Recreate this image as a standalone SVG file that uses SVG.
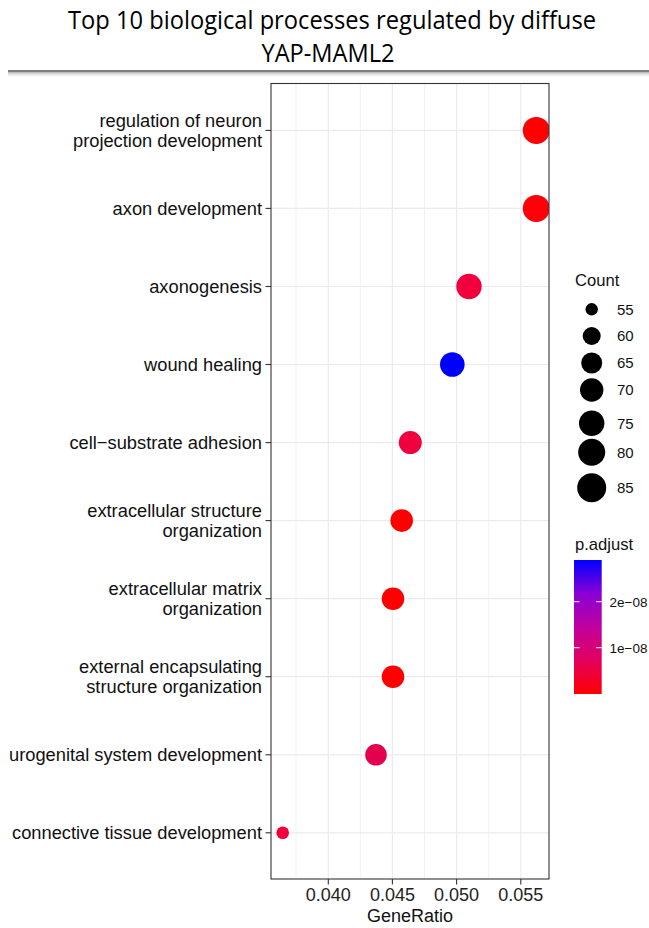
<svg xmlns="http://www.w3.org/2000/svg" width="649" height="928" viewBox="0 0 649 928">
<defs>
<style>
.t{font-family:"Liberation Sans",Arial,sans-serif;fill:#111}
.yl{font-size:18.3px;text-anchor:end}
.xl{font-size:18px;text-anchor:middle;fill:#222}
.lg{font-size:15px}
.lp{font-size:13.5px}
.lt{font-size:16.6px}
.maj{stroke:#ebebeb;stroke-width:1.2}
.min{stroke:#ebebeb;stroke-width:0.7}
.tk{stroke:#333;stroke-width:1.1}
.wt{stroke:#fff;stroke-width:1}
</style>
<linearGradient id="pg" x1="0" y1="0" x2="0" y2="1">
<stop offset="0" stop-color="#0000FF"/>
<stop offset="0.25" stop-color="#8A00D6"/>
<stop offset="0.5" stop-color="#C0009E"/>
<stop offset="0.75" stop-color="#E3005E"/>
<stop offset="1" stop-color="#FF0000"/>
</linearGradient>
<linearGradient id="sh" x1="0" y1="0" x2="0" y2="1">
<stop offset="0" stop-color="#b0b0b0"/>
<stop offset="1" stop-color="#ffffff" stop-opacity="0"/>
</linearGradient>
<clipPath id="pc"><rect x="271" y="83.5" width="278" height="795.5"/></clipPath>
</defs>
<rect width="649" height="928" fill="#fff"/>
<g id="title">
<text x="332" y="28.5" font-family="'Open Sans','Noto Sans',sans-serif" font-size="25.5" text-anchor="middle" fill="#000" textLength="528" lengthAdjust="spacingAndGlyphs">Top 10 biological processes regulated by diffuse</text>
<text x="328" y="61.5" font-family="'Open Sans','Noto Sans',sans-serif" font-size="25.5" text-anchor="middle" fill="#000" textLength="133" lengthAdjust="spacingAndGlyphs">YAP-MAML2</text>
<rect x="8" y="72" width="641" height="6" fill="url(#sh)"/>
<line x1="8" y1="71" x2="649" y2="71" stroke="#7f7f7f" stroke-width="2"/>
</g>
<g id="panel">
<rect x="271" y="83.5" width="278" height="795.5" fill="#fff"/>
<g class="grid">
<line class="min" x1="296" y1="83.5" x2="296" y2="879"/>
<line class="min" x1="360.3" y1="83.5" x2="360.3" y2="879"/>
<line class="min" x1="424.5" y1="83.5" x2="424.5" y2="879"/>
<line class="min" x1="488.7" y1="83.5" x2="488.7" y2="879"/>
<line class="maj" x1="328.3" y1="83.5" x2="328.3" y2="879"/>
<line class="maj" x1="392.4" y1="83.5" x2="392.4" y2="879"/>
<line class="maj" x1="456.6" y1="83.5" x2="456.6" y2="879"/>
<line class="maj" x1="520.8" y1="83.5" x2="520.8" y2="879"/>
<line class="maj" x1="271" y1="130.4" x2="549" y2="130.4"/>
<line class="maj" x1="271" y1="208.4" x2="549" y2="208.4"/>
<line class="maj" x1="271" y1="286.5" x2="549" y2="286.5"/>
<line class="maj" x1="271" y1="364.5" x2="549" y2="364.5"/>
<line class="maj" x1="271" y1="442.6" x2="549" y2="442.6"/>
<line class="maj" x1="271" y1="520.6" x2="549" y2="520.6"/>
<line class="maj" x1="271" y1="598.7" x2="549" y2="598.7"/>
<line class="maj" x1="271" y1="676.7" x2="549" y2="676.7"/>
<line class="maj" x1="271" y1="754.8" x2="549" y2="754.8"/>
<line class="maj" x1="271" y1="832.8" x2="549" y2="832.8"/>
</g>
</g>
<g id="points" clip-path="url(#pc)">
<circle id="p1" cx="536.3" cy="130.4" r="13.5" fill="#FF0000"/>
<circle id="p2" cx="536.3" cy="208.4" r="13.5" fill="#FF0008"/>
<circle id="p3" cx="469" cy="286.5" r="12.7" fill="#F2003E"/>
<circle id="p4" cx="452.3" cy="364.5" r="12.3" fill="#0000FF"/>
<circle id="p5" cx="410.3" cy="442.6" r="11.5" fill="#F0003E"/>
<circle id="p6" cx="401.7" cy="520.6" r="11.3" fill="#FF0000"/>
<circle id="p7" cx="393" cy="598.7" r="11.3" fill="#FF0000"/>
<circle id="p8" cx="393" cy="676.7" r="11.3" fill="#FF0000"/>
<circle id="p9" cx="376" cy="754.8" r="10.8" fill="#E5004F"/>
<circle id="p10" cx="282.7" cy="832.8" r="6.3" fill="#F3003C"/>
</g>
<g id="frame">
<rect x="271" y="83.5" width="278" height="795.5" fill="none" stroke="#333" stroke-width="1.1"/>
</g>
<g id="yaxis">
<line class="tk" x1="265.5" y1="130.4" x2="271" y2="130.4"/>
<line class="tk" x1="265.5" y1="208.4" x2="271" y2="208.4"/>
<line class="tk" x1="265.5" y1="286.5" x2="271" y2="286.5"/>
<line class="tk" x1="265.5" y1="364.5" x2="271" y2="364.5"/>
<line class="tk" x1="265.5" y1="442.6" x2="271" y2="442.6"/>
<line class="tk" x1="265.5" y1="520.6" x2="271" y2="520.6"/>
<line class="tk" x1="265.5" y1="598.7" x2="271" y2="598.7"/>
<line class="tk" x1="265.5" y1="676.7" x2="271" y2="676.7"/>
<line class="tk" x1="265.5" y1="754.8" x2="271" y2="754.8"/>
<line class="tk" x1="265.5" y1="832.8" x2="271" y2="832.8"/>
<text class="t yl" x="262" y="127">regulation of neuron</text>
<text class="t yl" x="262" y="147">projection development</text>
<text class="t yl" x="262" y="215">axon development</text>
<text class="t yl" x="262" y="293">axonogenesis</text>
<text class="t yl" x="262" y="371">wound healing</text>
<text class="t yl" x="262" y="449">cell−substrate adhesion</text>
<text class="t yl" x="262" y="517.2">extracellular structure</text>
<text class="t yl" x="262" y="537.2">organization</text>
<text class="t yl" x="262" y="595.2">extracellular matrix</text>
<text class="t yl" x="262" y="615.2">organization</text>
<text class="t yl" x="262" y="673.2">external encapsulating</text>
<text class="t yl" x="262" y="693.2">structure organization</text>
<text class="t yl" x="262" y="761.3">urogenital system development</text>
<text class="t yl" x="262" y="839.3">connective tissue development</text>
</g>
<g id="xaxis">
<line class="tk" x1="328.3" y1="879" x2="328.3" y2="884.5"/>
<line class="tk" x1="392.4" y1="879" x2="392.4" y2="884.5"/>
<line class="tk" x1="456.6" y1="879" x2="456.6" y2="884.5"/>
<line class="tk" x1="520.8" y1="879" x2="520.8" y2="884.5"/>
<text class="t xl" x="328.3" y="900.5">0.040</text>
<text class="t xl" x="392.4" y="900.5">0.045</text>
<text class="t xl" x="456.6" y="900.5">0.050</text>
<text class="t xl" x="520.8" y="900.5">0.055</text>
<text class="t" x="410" y="921.5" font-size="18" text-anchor="middle">GeneRatio</text>
</g>
<g id="legend-count">
<text class="t lt" x="575" y="286">Count</text>
<circle cx="591.7" cy="309.3" r="6.2" fill="#000"/>
<circle cx="591.7" cy="336" r="9" fill="#000"/>
<circle cx="591.7" cy="363" r="10.5" fill="#000"/>
<circle cx="591.7" cy="390" r="11.7" fill="#000"/>
<circle cx="591.7" cy="423.3" r="12.7" fill="#000"/>
<circle cx="591.7" cy="452.3" r="13.5" fill="#000"/>
<circle cx="591.7" cy="487.7" r="14.5" fill="#000"/>
<text class="t lg" x="617" y="314.6">55</text>
<text class="t lg" x="617" y="341.3">60</text>
<text class="t lg" x="617" y="368.3">65</text>
<text class="t lg" x="617" y="395.3">70</text>
<text class="t lg" x="617" y="428.6">75</text>
<text class="t lg" x="617" y="457.6">80</text>
<text class="t lg" x="617" y="493">85</text>
</g>
<g id="legend-padjust">
<text class="t lt" x="575" y="550">p.adjust</text>
<rect x="574" y="560" width="27.7" height="134" fill="url(#pg)"/>
<line class="wt" x1="574" y1="601.7" x2="579.5" y2="601.7"/>
<line class="wt" x1="596.2" y1="601.7" x2="601.7" y2="601.7"/>
<line class="wt" x1="574" y1="647.7" x2="579.5" y2="647.7"/>
<line class="wt" x1="596.2" y1="647.7" x2="601.7" y2="647.7"/>
<text class="t lp" x="609.5" y="606.5">2e−08</text>
<text class="t lp" x="609.5" y="652.5">1e−08</text>
</g>
</svg>
